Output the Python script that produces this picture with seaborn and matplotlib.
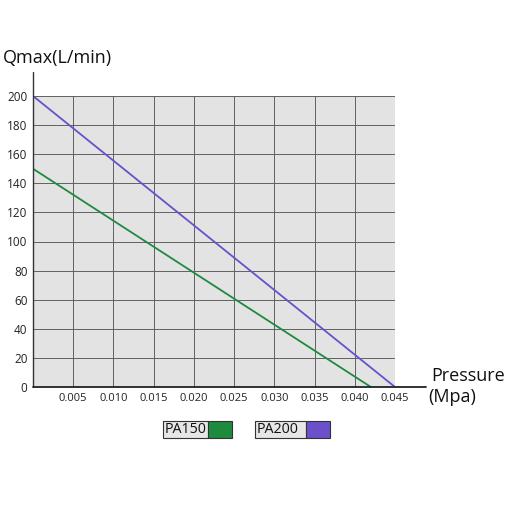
import matplotlib
matplotlib.use("Agg")
import matplotlib.pyplot as plt
import seaborn as sns
import pandas as pd
from matplotlib.patches import Rectangle
from matplotlib.lines import Line2D

pressure_pa150 = [0.0, 0.042]
flow_pa150 = [150, 0]
pressure_pa200 = [0.0, 0.045]
flow_pa200 = [200, 0]
series = ["PA150", "PA200"]
colors = {"PA150": "#1e8a3e", "PA200": "#6b4fcb"}
xticks = [0.005, 0.010, 0.015, 0.020, 0.025, 0.030, 0.035, 0.040, 0.045]
xtick_labels = ["0.005", "0.010", "0.015", "0.020", "0.025", "0.030", "0.035", "0.040", "0.045"]
yticks = [0, 20, 40, 60, 80, 100, 120, 140, 160, 180, 200]

df = pd.concat([
    pd.DataFrame({"Pressure": pressure_pa150, "Q": flow_pa150, "Model": "PA150"}),
    pd.DataFrame({"Pressure": pressure_pa200, "Q": flow_pa200, "Model": "PA200"}),
])

sns.set_style("white")
plt.rcParams["font.family"] = ["Open Sans", "DejaVu Sans"]

fig = plt.figure(figsize=(5.08, 5.08), dpi=100)
fig.patch.set_facecolor("white")
W = H = 508.0
ax = fig.add_axes([33 / W, (508 - 387) / H, 362 / W, 291 / H])
ax.set_facecolor("#e3e3e3")

sns.lineplot(data=df, x="Pressure", y="Q", hue="Model", palette=colors, ax=ax,
             legend=False, linewidth=1.3, zorder=3)

ax.set_xlim(0, 0.045)
ax.set_ylim(0, 200)
ax.set_xticks([0] + xticks)
ax.set_xticklabels([""] + xtick_labels, fontsize=8)
ax.set_yticks(yticks)
ax.set_yticklabels([str(v) for v in yticks], fontsize=8.5)
ax.tick_params(axis="both", length=0, pad=4, colors="#222222")
ax.grid(True, color="#606060", linewidth=0.7, zorder=1)
ax.set_axisbelow(True)
for s in ["top", "right", "left", "bottom"]:
    ax.spines[s].set_visible(False)
ax.set_xlabel("")
ax.set_ylabel("")

# axis lines extending beyond plot area
fig.add_artist(Line2D([33 / W, 33 / W], [(508 - 387) / H, (508 - 72) / H],
                      color="#333333", linewidth=1.0))
fig.add_artist(Line2D([33 / W, 426 / W], [(508 - 387) / H, (508 - 387) / H],
                      color="#222222", linewidth=1.3))

fig.text(3 / W, (508 - 58) / H, "Qmax(L/min)", fontsize=13, va="center", ha="left", color="#111111")
fig.text(431 / W, (508 - 376) / H, "Pressure", fontsize=13, va="center", ha="left", color="#111111")
fig.text(428 / W, (508 - 397) / H, "(Mpa)", fontsize=13, va="center", ha="left", color="#111111")

# legend
legend_items = [(163, 45, 24, "PA150"), (255, 51, 24, "PA200")]
for x0, wg, wc, name in legend_items:
    fig.add_artist(Rectangle((x0 / W, (508 - 438) / H), wg / W, 17 / H, facecolor="#e6e6e6",
                             edgecolor="#333333", linewidth=0.8, transform=fig.transFigure))
    fig.add_artist(Rectangle(((x0 + wg) / W, (508 - 438) / H), wc / W, 17 / H, facecolor=colors[name],
                             edgecolor="#333333", linewidth=0.8, transform=fig.transFigure))
    fig.text((x0 + 2) / W, (508 - 429.5) / H, name, fontsize=10.3, va="center", ha="left", color="#111111")

fig.savefig("out.png", dpi=100, facecolor="white")
